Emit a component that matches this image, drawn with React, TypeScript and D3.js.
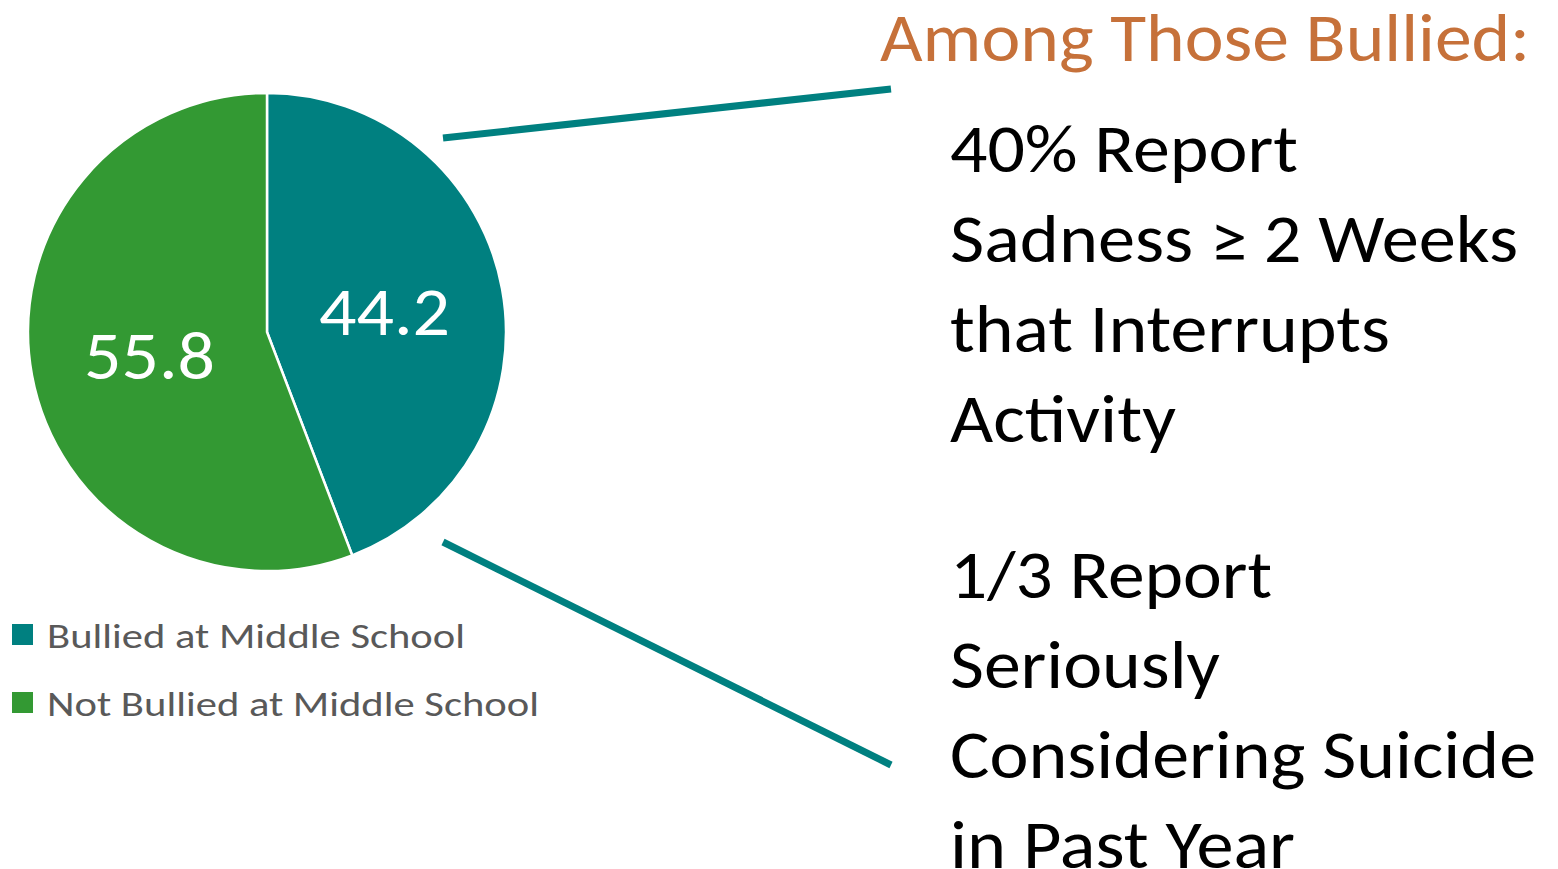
import React from "react";
import * as d3 from "d3";

const categories = ["Bullied at Middle School", "Not Bullied at Middle School"];
const values = [44.2, 55.8];
const colors = ["#008080", "#339933"];
const titleText = "Among Those Bullied:";
const block1 = ["40% Report", "Sadness \u2265 2 Weeks", "that Interrupts", "Activity"];
const block2 = ["1/3 Report", "Seriously", "Considering Suicide", "in Past Year"];

// layout (measured from reference ink widths)
const block1Widths = [348, 568, 440, 226];
const block2Widths = [322, 270, 586, 345];
const legendWidths = [418, 492];

const W = 1558;
const H = 869;
const FONT = "Carlito, Calibri, Lato, 'Open Sans', sans-serif";

export default function App() {
  const cx = 267;
  const cy = 332;
  const R = 239;
  const pie = d3
    .pie<number>()
    .sort(null)
    .value((d) => d);
  const arcs = pie(values);
  const arc = d3.arc<d3.PieArcDatum<number>>().innerRadius(0).outerRadius(R);

  const lineY = d3.scaleLinear().domain([0, 1]).range([0, 90]);

  return (
    <svg
      width={W}
      height={H}
      style={{ position: "absolute", left: 0, top: 0, background: "#fff" }}
      fontFamily={FONT}
    >
      <g transform={`translate(${cx},${cy})`}>
        {arcs.map((a, i) => (
          <path key={i} d={arc(a) || ""} fill={colors[i]} stroke="#fff" strokeWidth={2.5} strokeLinejoin="round" />
        ))}
        {arcs.map((a, i) => {
          const [x, y] = arc.centroid(a);
          return (
            <text
              key={"l" + i}
              x={x}
              y={y + 25}
              textAnchor="middle"
              fill="#fff"
              fontSize={68}
              textLength={131}
              lengthAdjust="spacingAndGlyphs"
            >
              {values[i].toFixed(1)}
            </text>
          );
        })}
      </g>

      {/* connector lines */}
      <line x1={443} y1={138} x2={891} y2={89} stroke="#008080" strokeWidth={7} />
      <line x1={443} y1={542} x2={891} y2={765} stroke="#008080" strokeWidth={7} />

      {/* legend */}
      {categories.map((c, i) => (
        <g key={c} transform={`translate(0,${i * 68})`}>
          <rect x={12} y={624} width={21} height={21} fill={colors[i]} />
          <text
            x={47}
            y={648}
            fontSize={34}
            fill="#595959"
            textLength={legendWidths[i]}
            lengthAdjust="spacingAndGlyphs"
          >
            {c}
          </text>
        </g>
      ))}

      {/* title */}
      <text x={880} y={61} fontSize={67} fill="#C6713A" textLength={650} lengthAdjust="spacingAndGlyphs">
        {titleText}
      </text>

      {block1.map((t, i) => (
        <text
          key={t}
          x={950}
          y={172 + lineY(i)}
          fontSize={68}
          fill="#000"
          textLength={block1Widths[i]}
          lengthAdjust="spacingAndGlyphs"
        >
          {t}
        </text>
      ))}
      {block2.map((t, i) => (
        <text
          key={t}
          x={950}
          y={598 + lineY(i)}
          fontSize={68}
          fill="#000"
          textLength={block2Widths[i]}
          lengthAdjust="spacingAndGlyphs"
        >
          {t}
        </text>
      ))}
    </svg>
  );
}
